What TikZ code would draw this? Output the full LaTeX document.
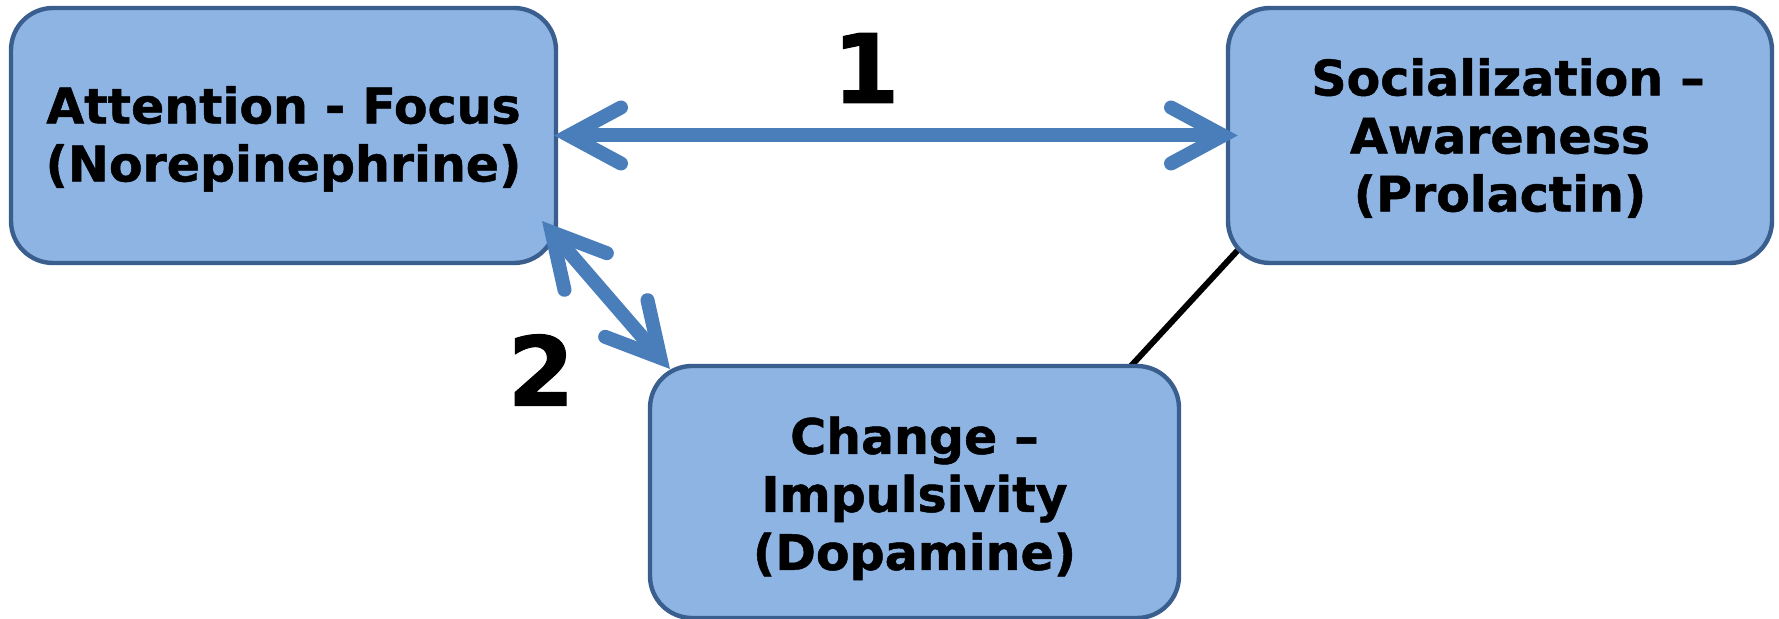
\documentclass[tikz,border=0pt]{standalone}
\usepackage{fontspec}
\setmainfont{DejaVu Sans}[BoldFeatures={FakeBold=1}]
\usetikzlibrary{arrows.meta,calc}
\definecolor{boxfill}{HTML}{8EB4E3}
\definecolor{boxline}{HTML}{3A5F8F}
\definecolor{arrblue}{HTML}{4A7EBB}
\newcommand\lowerby[2]{\raisebox{-#1}[\height][\depth]{#2}}
\begin{document}
\begin{tikzpicture}[x=0.5pt,y=-0.5pt,
  box/.style={draw=boxline, fill=boxfill, line width=2.2pt, rounded corners=21pt, align=center,
    font=\bfseries\fontsize{24.5}{29}\selectfont, inner sep=0pt},
  barb/.tip={Straight Barb[line cap=round,line join=miter,length=26pt,width=28pt]},
  dbl/.style={draw=arrblue, line width=7pt, {barb}-{barb}},
  plain/.style={draw=black, line width=3pt},
  num/.style={font=\bfseries\fontsize{48}{58}\selectfont, inner sep=0pt}]
\useasboundingbox (0,0) rectangle (1779,619);
\coordinate (s3) at (1238,250);
\coordinate (c3) at (1131,366);
\draw[plain] (s3) -- (c3);
\node[box, minimum width=272.5pt, minimum height=127.5pt] (A) at (283.5,135.5)
  {\lowerby{1.7pt}{Attention - Focus}\\\lowerby{1.7pt}{(Norepinephrine)}};
\node[box, minimum width=272pt, minimum height=127.5pt] (S) at (1500,135.5)
  {\lowerby{1.3pt}{\hspace{8pt}Socialization –}\\\lowerby{1.3pt}{Awareness}\\\lowerby{1.3pt}{(Prolactin)}};
\node[box, minimum width=264.5pt, minimum height=126pt] (C) at (914.5,492)
  {\lowerby{3.2pt}{Change –}\\\lowerby{3.2pt}{Impulsivity}\\\lowerby{3.2pt}{(Dopamine)}};
\coordinate (a2) at (542,221);
\coordinate (c2) at (670,369);
\draw[dbl] ([xshift=-2pt]A.east) -- ([xshift=6pt]S.west);
\draw[dbl] (a2) -- (c2);
\node[num] (n1) at (866,68) {1};
\node[num] (n2) at (541,370) {2};
\end{tikzpicture}
\end{document}
